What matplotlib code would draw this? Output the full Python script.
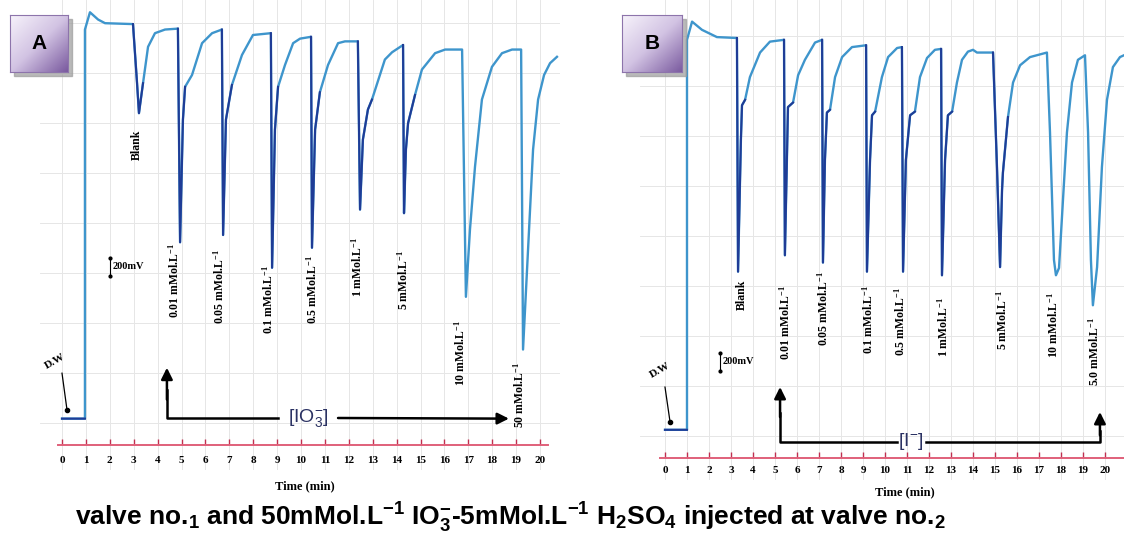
import numpy as np
import matplotlib.pyplot as plt
from matplotlib.patches import Rectangle
from matplotlib.colors import LinearSegmentedColormap

# ---- data (time in min, potential in mV) ----
# Panel A: IO3- injections
time_a = [0.00, 0.96, 0.96, 1.17, 1.51, 1.80, 2.97, 3.14, 3.22, 3.39, 3.60, 3.89,
          4.31, 4.85, 4.94, 5.06, 5.15, 5.44, 5.86, 6.28, 6.69, 6.74, 6.86, 7.11,
          7.53, 7.99, 8.74, 8.79, 8.91, 9.04, 9.33, 9.67, 9.96, 10.42, 10.46, 10.59,
          10.79, 11.13, 11.55, 11.84, 12.38, 12.47, 12.59, 12.80, 12.97, 13.51, 13.81,
          14.27, 14.31, 14.39, 14.48, 14.77, 15.06, 15.61, 16.03, 16.74, 16.90, 17.07,
          17.28, 17.57, 17.99, 18.41, 18.83, 19.21, 19.29, 19.50, 19.71, 19.92, 20.17,
          20.42, 20.71]
signal_a = [290, 290, 4570, 4760, 4680, 4640, 4630, 3980, 3650, 3980, 4380, 4530,
            4570, 4580, 2230, 3580, 3940, 4070, 4420, 4530, 4570, 2310, 3580, 3960,
            4290, 4510, 4530, 1950, 3470, 3940, 4180, 4420, 4470, 4490, 2170, 3470,
            3880, 4180, 4420, 4440, 4440, 2590, 3360, 3690, 3800, 4240, 4320,
            4400, 2550, 3250, 3540, 3850, 4130, 4310, 4350, 4350, 1630, 2370,
            3060, 3800, 4160, 4310, 4350, 4350, 1050, 2150, 3250, 3800, 4070,
            4200, 4270]
labels_a = ['Blank', '0.01 mMol.L', '0.05 mMol.L', '0.1 mMol.L', '0.5 mMol.L',
            '1 mMol.L', '5 mMol.L', '10 mMol.L', '50 mMol.L']

# Panel B: I- injections
time_b = [0.00, 1.00, 1.00, 1.23, 1.68, 2.36, 3.27, 3.32, 3.45, 3.50, 3.64, 3.86,
          4.32, 4.77, 5.41, 5.45, 5.55, 5.59, 5.82, 6.05, 6.36, 6.82, 7.14, 7.18,
          7.27, 7.36, 7.50, 7.73, 8.05, 8.50, 9.14, 9.18, 9.32, 9.41, 9.55, 9.86,
          10.14, 10.55, 10.77, 10.82, 10.95, 11.14, 11.36, 11.59, 11.91, 12.27, 12.55,
          12.59, 12.73, 12.86, 13.05, 13.27, 13.50, 13.77, 14.00, 14.18, 14.91, 15.09,
          15.23, 15.32, 15.36, 15.59, 15.82, 16.14, 16.59, 17.36, 17.50, 17.68, 17.77,
          17.91, 18.09, 18.27, 18.50, 18.77, 19.09, 19.23, 19.36, 19.45, 19.64, 19.86,
          20.09, 20.36, 20.68, 20.86]
signal_b = [310, 310, 4600, 4800, 4710, 4630, 4620, 2050, 3500, 3880, 3940, 4190,
            4460, 4580, 4600, 2230, 3390, 3860, 3910, 4210, 4380, 4570, 4600, 2150,
            3280, 3800, 3830, 4190, 4410, 4520, 4540, 2050, 3280, 3770, 3810, 4190,
            4410, 4510, 4520, 2050, 3280, 3770, 3810, 4190, 4400, 4490, 4500,
            2010, 3280, 3770, 3810, 4130, 4380, 4470, 4490, 4460, 4460, 3200,
            2100, 2950, 3140, 3750, 4130, 4320, 4410, 4460, 3580, 2180, 2010,
            2090, 2840, 3580, 4130, 4380, 4430, 3580, 2180, 1680, 2100, 3200,
            3940, 4300, 4410, 4430]
labels_b = ['Blank', '0.01 mMol.L', '0.05 mMol.L', '0.1 mMol.L', '0.5 mMol.L',
            '1 mMol.L', '5 mMol.L', '10 mMol.L', '5.0 mMol.L']

minutes = list(range(21))

# ---- layout helpers (pixel geometry of the 1124x535 figure) ----
W, H = 1124, 535
fig = plt.figure(figsize=(W / 100, H / 100), dpi=100)

LIGHT = '#3e95cc'
DARK = '#1f3c96'
RED = '#e0607a'
SERIF = 'Liberation Serif'
SANS = 'Liberation Sans'


def make_axes(x0, y0, x1, y1, ox, oy, px_per_min, mv_per_px):
    ax = fig.add_axes([x0 / W, 1 - y1 / H, (x1 - x0) / W, (y1 - y0) / H])
    ax.set_xlim((x0 - ox) / px_per_min, (x1 - ox) / px_per_min)
    ax.set_ylim((oy - y1) * mv_per_px, (oy - y0) * mv_per_px)
    return ax


def style_axes(ax, bounds, pad, label_xy):
    for s in ['top', 'right', 'left']:
        ax.spines[s].set_visible(False)
    ax.spines['bottom'].set_position(('data', 0))
    ax.spines['bottom'].set_color(RED)
    ax.spines['bottom'].set_linewidth(1.4)
    ax.spines['bottom'].set_bounds(*bounds)
    ax.set_xticks(minutes, labels=[str(m) for m in minutes],
                  fontsize=8, fontweight='bold', fontfamily=SERIF)
    ax.tick_params(axis='x', direction='in', length=4, width=1, color='#c03050', pad=pad)
    ax.set_yticks(np.arange(242, 4900, 550))
    ax.tick_params(axis='y', left=False, labelleft=False)
    ax.grid(True, color='#e6e6e6', lw=0.7)
    ax.set_axisbelow(True)
    ax.set_xlabel('Time (min)', fontsize=9, fontweight='bold', fontfamily=SERIF)
    ax.xaxis.set_label_coords(*label_xy)


def draw_trace(ax, t, v, dark_end):
    t = np.array(t)
    v = np.array(v, dtype=float)
    ax.plot(t, v, color=LIGHT, lw=1.7, zorder=3, clip_on=False)
    low = (v < 4000) & (t < dark_end)
    keep = low | np.append(low[1:], False)
    ax.plot(t, np.where(keep, v, np.nan), color=DARK, lw=1.5, zorder=4, clip_on=False)


def conc_labels(ax, labels, pos):
    for text, (x, y) in zip(labels, pos):
        if text != 'Blank':
            text = text + r'$\mathregular{^{-1}}$'
        ax.text(x, y, text, rotation=90, ha='center', va='top', fontsize=8.5,
                fontweight='bold', fontfamily=SERIF, zorder=5)


def scale_bar(ax, x, y0, y1):
    ax.plot([x, x], [y0, y1], color='k', lw=0.8, marker='o', ms=2, zorder=5)
    ax.text(x + 0.12, (y0 + y1) / 2, '200mV', ha='left', va='center', fontsize=7.5,
            fontweight='bold', fontfamily=SERIF)


def dw_label(ax, tx, ty, x0, y0, x1, y1):
    ax.text(tx, ty, 'D.W', rotation=30, ha='center', va='center', fontsize=8,
            fontweight='bold', fontfamily=SERIF, clip_on=False)
    ax.plot([x0, x1], [y0, y1], color='k', lw=0.9, clip_on=False)
    ax.plot(x1, y1, 'o', color='k', ms=3, clip_on=False)


def arrow(ax, x0, y0, x1, y1):
    ax.annotate('', xy=(x1, y1), xytext=(x0, y0),
                arrowprops=dict(arrowstyle='-|>', lw=1.8, color='k',
                                mutation_scale=17, shrinkA=0, shrinkB=0))


def panel_box(x0, y0, x1, y1, letter):
    shadow = Rectangle(((x0 + 4) / W, 1 - (y1 + 4) / H), (x1 - x0) / W, (y1 - y0) / H,
                       transform=fig.transFigure, color='#9c9c9c', alpha=0.7, zorder=5)
    fig.add_artist(shadow)
    bax = fig.add_axes([x0 / W, 1 - y1 / H, (x1 - x0) / W, (y1 - y0) / H], zorder=6)
    gx, gy = np.meshgrid(np.linspace(0, 1, 80), np.linspace(0, 1, 80))
    cmap = LinearSegmentedColormap.from_list('box', ['#f7f3fb', '#d2c3e3', '#7a5a9f'])
    bax.imshow((gx + gy) / 2, cmap=cmap, extent=[0, 1, 0, 1], origin='upper', aspect='auto')
    bax.set_xticks([])
    bax.set_yticks([])
    for s in bax.spines.values():
        s.set_color('#8d74ab')
    bax.text(0.5, 0.5, letter, ha='center', va='center', fontsize=15,
             fontweight='bold', fontfamily=SANS)


# ---- panel A ----
ax_a = make_axes(40, 0, 560, 470, 62, 445, 23.9, 11)
style_axes(ax_a, (-0.17, 20.35), 8, ((305 - 40) / 520, (470 - 480) / 470))
draw_trace(ax_a, time_a, signal_a, 16.5)
conc_labels(ax_a, labels_a, [(3.14, 3470), (4.69, 2220), (6.57, 2150), (8.62, 1980),
                             (10.46, 2090), (12.34, 2290), (14.27, 2150), (16.65, 1380),
                             (19.12, 910)])
scale_bar(ax_a, 2.01, 1860, 2060)
dw_label(ax_a, -0.29, 920, 0.0, 790, 0.21, 385)
ax_a.plot([4.39, 4.39, 9.05], [600, 297, 297], color='k', lw=1.8, zorder=5)
arrow(ax_a, 4.39, 500, 4.39, 850)
ax_a.text(10.29, 297, r'[IO$\mathregular{_3^{-}}$]', ha='center', va='center',
          fontsize=14, color='#2b3263', fontfamily=SANS)
arrow(ax_a, 11.55, 297, 18.70, 290)

# ---- panel B ----
ax_b = make_axes(640, 0, 1124, 480, 665, 458, 22, 11)
style_axes(ax_b, (-0.23, 20.86), 6, ((905 - 640) / 484, (480 - 486) / 480))
draw_trace(ax_b, time_b, signal_b, 17.4)
conc_labels(ax_b, labels_b, [(3.50, 1960), (5.45, 1900), (7.18, 2050), (9.23, 1900),
                             (10.68, 1880), (12.64, 1770), (15.32, 1850), (17.64, 1830),
                             (19.50, 1550)])
scale_bar(ax_b, 2.50, 960, 1160)
dw_label(ax_b, -0.23, 960, 0.0, 780, 0.23, 396)
ax_b.plot([5.23, 5.23, 10.55], [500, 176, 176], color='k', lw=1.8, zorder=5)
arrow(ax_b, 5.23, 450, 5.23, 781)
ax_b.text(11.18, 176, r'[I$\mathregular{^{-}}$]', ha='center', va='center',
          fontsize=14, color='#2b3263', fontfamily=SANS)
ax_b.plot([11.85, 19.77, 19.77], [176, 176, 300], color='k', lw=1.8, zorder=5)
arrow(ax_b, 19.77, 250, 19.77, 506)

# ---- panel tags and caption ----
panel_box(10, 15, 68, 72, 'A')
panel_box(622, 15, 682, 72, 'B')

fig.text(75 / W, 1 - 518 / H,
         r'valve no.$\mathregular{_1}$ and 50mMol.L$\mathregular{^{-1}}$ '
         r'IO$\mathregular{_3^{-}}$-5mMol.L$\mathregular{^{-1}}$ '
         r'H$\mathregular{_2}$SO$\mathregular{_4}$ injected at valve no.$\mathregular{_2}$',
         ha='left', va='center', fontsize=19, fontweight='bold', fontfamily=SANS)

fig.savefig('out.png', dpi=100)
